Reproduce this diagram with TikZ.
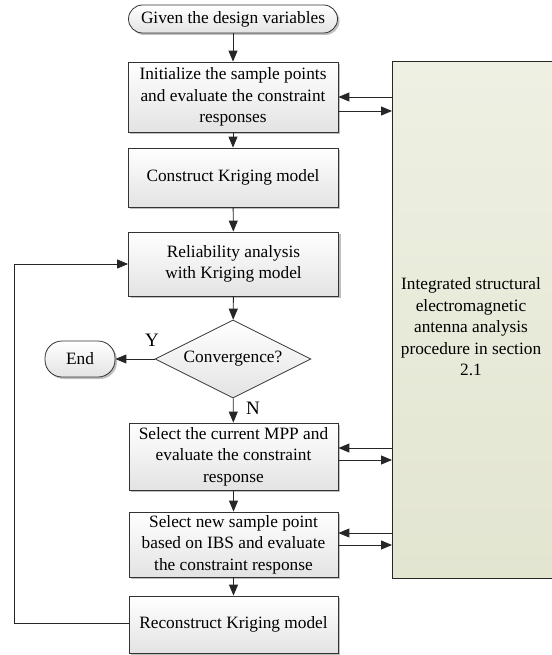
\documentclass[tikz,border=0pt]{standalone}
\usepackage{fontspec}
\setmainfont{Liberation Serif}
\usetikzlibrary{shapes.geometric,arrows.meta,shadows}
\begin{document}
\begin{tikzpicture}[x=1pt,y=-1pt,
  every node/.style={font=\fontsize{17.3}{21.5}\selectfont, inner sep=0pt},
  proc/.style={draw=black!80, line width=0.8pt, rectangle, align=center,
    top color=white, bottom color=black!11, minimum width=210pt,
    drop shadow={shadow xshift=2pt, shadow yshift=-2pt, opacity=0.25, fill=black}},
  term/.style={proc, rounded corners=14pt},
  decision/.style={draw=black!80, line width=0.8pt, diamond, aspect=2,
    top color=white, bottom color=black!11, minimum width=156pt, minimum height=78pt},
  arr/.style={draw=black!85, line width=0.9pt, -{Triangle[length=11pt,width=9pt]}},
  lab/.style={font=\fontsize{19}{21}\selectfont}
]
\definecolor{gtop}{HTML}{EEF0E3}
\definecolor{gbot}{HTML}{E2E5D0}
\useasboundingbox (0,0) rectangle (551,655);

\node[term, minimum width=209pt, minimum height=28pt] (start) at (233,19) {Given the design variables};
\node[proc, minimum height=70pt] (init) at (233,97) {Initialize the sample points\\and evaluate the constraint\\responses};
\node[proc, minimum height=59pt] (cons) at (233,177.5) {Construct Kriging model};
\node[proc, minimum height=64pt] (rel) at (233.5,264) {Reliability analysis\\with Kriging model};
\node[decision] (conv) at (233,359) {Convergence?};
\node[term, minimum width=70pt, minimum height=36pt, rounded corners=17pt] (end) at (80,359) {End};
\node[proc, minimum width=209pt, minimum height=67pt] (mpp) at (233.5,456.5) {Select the current MPP and\\evaluate the constraint\\response};
\node[proc, minimum width=209pt, minimum height=65pt] (ibs) at (233.5,544.5) {Select new sample point\\based on IBS and evaluate\\the constraint response};
\node[proc, minimum width=209pt, minimum height=57pt] (rec) at (233.5,624.5) {Reconstruct Kriging model};

\node[draw=black!85, line width=0.8pt, rectangle, top color=gtop, bottom color=gbot,
  minimum width=162pt, minimum height=517pt, anchor=north west] (green) at (392,61) {};
\node[align=center] (gtext) at (471,327) {Integrated structural\\electromagnetic\\antenna analysis\\procedure in section\\2.1};

\draw[arr] (start) -- (init);
\draw[arr] (init) -- (cons);
\draw[arr] (cons) -- (rel);
\draw[arr] (rel) -- (conv);
\draw[arr] (conv) -- (mpp);
\draw[arr] (mpp) -- (ibs);
\draw[arr] (ibs) -- (rec);
\draw[arr] (conv) -- (end);

\draw[arr] (green.west |- 0,97) -- (init.east |- 0,97);
\draw[arr] (init.east |- 0,111) -- (green.west |- 0,111);
\draw[arr] (green.west |- 0,448) -- (mpp.east |- 0,448);
\draw[arr] (mpp.east |- 0,460) -- (green.west |- 0,460);
\draw[arr] (green.west |- 0,533) -- (ibs.east |- 0,533);
\draw[arr] (ibs.east |- 0,545) -- (green.west |- 0,545);

\coordinate (lb) at (14,623);
\coordinate (lt) at (14,264);
\draw[arr] (rec.west |- lb) -- (lb) -- (lt) -- (rel.west);

\node[lab] (y) at (152,340) {Y};
\node[lab] (n) at (253,408) {N};
\end{tikzpicture}
\end{document}
